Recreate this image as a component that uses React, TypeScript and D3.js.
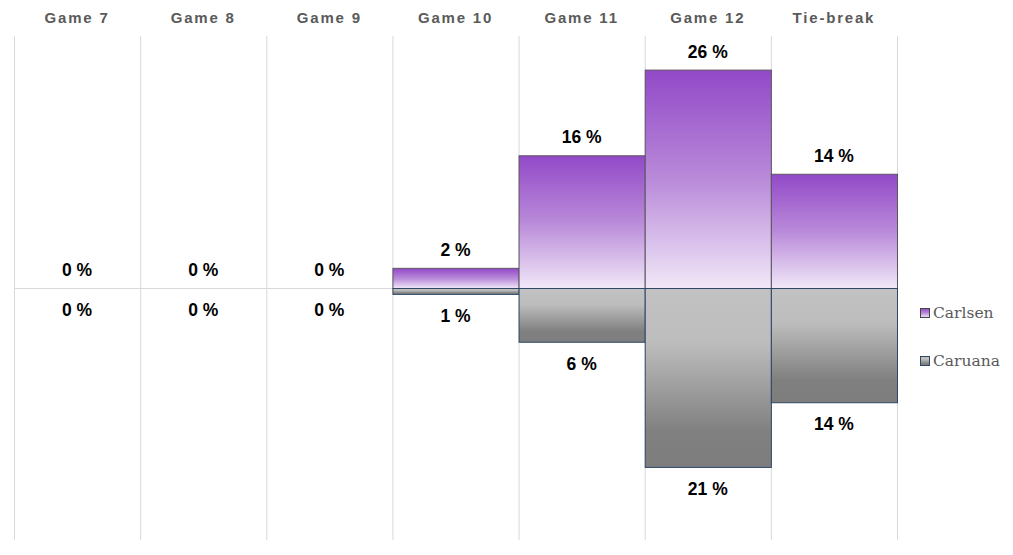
import React from "react";
import * as d3 from "d3";

const categories = ["Game 7", "Game 8", "Game 9", "Game 10", "Game 11", "Game 12", "Tie-break"];
const carlsen = [0, 0, 0, 2.4, 15.8, 26, 13.6];
const caruana = [0, 0, 0, 0.7, 6.4, 21.3, 13.6];
const seriesNames = ["Carlsen", "Caruana"];

const W = 1013;
const H = 555;

export default function App() {
  const x = d3.scaleBand<string>().domain(categories).range([14, 897]).padding(0);
  const y = d3.scaleLinear().domain([-30, 30]).range([540, 36]);
  const y0 = y(0);
  const bw = x.bandwidth();
  const gridXs = categories.map((c) => x(c)!).concat([x(categories[categories.length - 1])! + bw]);
  const fmt = (v: number) => `${Math.round(v)} %`;

  return (
    <svg width={W} height={H} style={{ position: "absolute", left: 0, top: 0, background: "#fff" }}>
      <defs>
        <linearGradient id="gPurple" x1="0" y1="0" x2="0" y2="1">
          <stop offset="0" stopColor="#9249c8" />
          <stop offset="0.5" stopColor="#b98ad9" />
          <stop offset="1" stopColor="#f1e8f8" />
        </linearGradient>
        <linearGradient id="gGray" x1="0" y1="0" x2="0" y2="1">
          <stop offset="0" stopColor="#c2c2c2" />
          <stop offset="0.3" stopColor="#bdbdbd" />
          <stop offset="0.8" stopColor="#808080" />
          <stop offset="1" stopColor="#7d7d7d" />
        </linearGradient>
      </defs>
      {gridXs.map((gx, i) => (
        <line key={i} x1={gx + 0.5} x2={gx + 0.5} y1={36} y2={540} stroke="#d9d9d9" strokeWidth={1} />
      ))}
      <line x1={14} x2={897} y1={y0 + 0.5} y2={y0 + 0.5} stroke="#d9d9d9" strokeWidth={1} />
      {categories.map((c) => (
        <text
          key={c}
          x={x(c)! + bw / 2}
          y={17}
          textAnchor="middle"
          dominantBaseline="central"
          fontFamily="Liberation Sans, Arial, sans-serif"
          fontWeight="bold"
          fontSize={15}
          letterSpacing={1.8}
          fill="#5a5a5a"
        >
          {c}
        </text>
      ))}
      {categories.map((c, i) => {
        const v = carlsen[i];
        const top = y(v);
        return (
          <g key={"a" + c}>
            {v > 0 && (
              <rect x={x(c)! + 0.5} y={top + 0.5} width={bw} height={y0 - top} fill="url(#gPurple)" stroke="#5b5560" strokeWidth={1} />
            )}
            <text
              x={x(c)! + bw / 2}
              y={top - 18}
              textAnchor="middle"
              dominantBaseline="central"
              fontFamily="Liberation Sans, Arial, sans-serif"
              fontWeight="bold"
              fontSize={17.5}
              fill="#000"
            >
              {fmt(v)}
            </text>
          </g>
        );
      })}
      {categories.map((c, i) => {
        const v = caruana[i];
        const bot = y(-v);
        return (
          <g key={"b" + c}>
            {v > 0 && (
              <rect x={x(c)! + 0.5} y={y0 + 0.5} width={bw} height={bot - y0} fill="url(#gGray)" stroke="#2e4766" strokeWidth={1} />
            )}
            <text
              x={x(c)! + bw / 2}
              y={bot + 22}
              textAnchor="middle"
              dominantBaseline="central"
              fontFamily="Liberation Sans, Arial, sans-serif"
              fontWeight="bold"
              fontSize={17.5}
              fill="#000"
            >
              {fmt(v)}
            </text>
          </g>
        );
      })}
      {seriesNames.map((s, i) => (
        <g key={s} transform={`translate(920, ${313 + i * 48})`}>
          <rect x={0.5} y={-4.5} width={9} height={9} fill={i === 0 ? "url(#gPurple)" : "url(#gGray)"} stroke={i === 0 ? "#444" : "#2e4766"} strokeWidth={1} />
          <text x={13} y={0} dominantBaseline="central" fontFamily="DejaVu Serif, Liberation Serif, serif" fontSize={15.5} fill="#595959">
            {s}
          </text>
        </g>
      ))}
    </svg>
  );
}
